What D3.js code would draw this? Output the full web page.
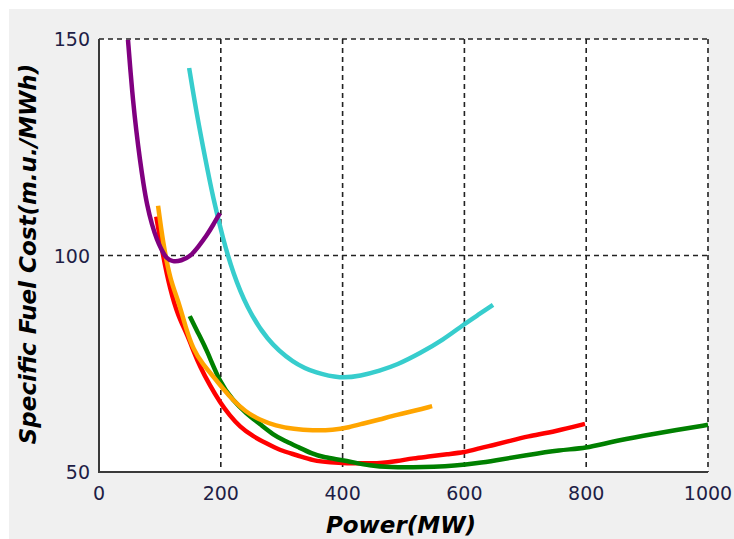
<!DOCTYPE html>
<html>
<head>
<meta charset="utf-8">
<script src="https://cdn.jsdelivr.net/npm/d3@7"></script>
<style>
  html, body { margin: 0; padding: 0; background: #fff; }
  svg { display: block; }
  .tick-label { font-family: "DejaVu Sans", Verdana, sans-serif; font-size: 19px; fill: #1e1e46; }
  .axis-title { font-family: "DejaVu Sans", Verdana, sans-serif; font-size: 23px; font-weight: bold; font-style: italic; fill: #000; }
</style>
</head>
<body>
<div id="chart"></div>
<script>
'use strict';

// tick values
var xTicks = [0, 200, 400, 600, 800, 1000];
var yTicks = [50, 100, 150];

// curves, [power MW, specific fuel cost]
var purpleUnit = [[47.6, 149.8], [52, 142], [55.8, 135.9], [61, 129], [67.3, 122], [73, 116.5],
  [78.8, 111.7], [87, 107], [95.2, 103.6], [103, 101.2], [110, 99.4], [121.5, 98.5], [135, 98.8],
  [149.4, 99.7], [163, 102], [177.3, 104.7], [188, 107.2], [198.7, 109.8]];

var cyanUnit = [[148, 143.3], [160, 133], [175, 122], [187, 113.5], [204, 103.6], [220, 96],
  [242, 88.2], [275, 80.5], [319, 75.1], [357, 72.8], [396, 71.6], [430, 72.2], [461, 73.4],
  [489, 74.7], [527, 77.4], [565, 80.5], [598, 84], [625, 86.5], [647, 88.6]];

var orangeUnit = [[97, 111.5], [105, 103], [117, 94.3], [130, 89.7], [142, 83.5], [155, 78.2],
  [170, 75], [188, 72], [205, 69], [220, 66.6], [240, 64], [264, 62], [290, 60.7], [320, 59.9],
  [350, 59.6], [385, 59.7], [410, 60.3], [434, 61.2], [460, 62.1], [489, 63.2], [520, 64.2],
  [547, 65.2]];

var redUnit = [[94, 109], [105, 100], [117, 92], [130, 86], [144, 82], [155, 78], [166, 74.3],
  [182, 70], [199, 66], [215, 63], [231, 60.5], [252, 58.3], [275, 56.6], [297, 55], [325, 53.9],
  [352, 52.6], [380, 52.2], [407, 52], [435, 52], [461, 52], [490, 52.5], [516, 53.2],
  [545, 53.6], [571, 54.1], [600, 54.5], [625, 55.5], [647, 56.2], [675, 57.2], [702, 58.2],
  [750, 59.4], [798, 61.1]];

var greenUnit = [[149, 86], [163, 82], [177, 78.2], [199, 70.5], [220, 66.5], [242, 63.5],
  [265, 61], [286, 58.6], [305, 57.2], [325, 55.9], [350, 54.2], [368, 53.4], [407, 52.6],
  [445, 51.4], [480, 51.1], [516, 51.1], [550, 51.2], [582, 51.4], [625, 52.1], [647, 52.6],
  [702, 53.9], [757, 55.1], [800, 55.5], [839, 56.9], [894, 58.4], [949, 59.7], [1000, 60.9]];

var series = [
  { name: 'red', color: '#ff0000', values: redUnit },
  { name: 'green', color: '#008000', values: greenUnit },
  { name: 'orange', color: '#ffa500', values: orangeUnit },
  { name: 'cyan', color: '#37cdcd', values: cyanUnit },
  { name: 'purple', color: '#800080', values: purpleUnit }
];

var W = 734, H = 539,
    plot = { left: 99, top: 39, right: 708, bottom: 472 };

var svg = d3.select('#chart').append('svg')
  .attr('width', W)
  .attr('height', H);

// gray window background
svg.append('rect')
  .attr('x', 9).attr('y', 9)
  .attr('width', W - 9).attr('height', H - 9)
  .attr('fill', '#f0f0f0');

svg.append('rect')
  .attr('x', plot.left).attr('y', plot.top)
  .attr('width', plot.right - plot.left).attr('height', plot.bottom - plot.top)
  .attr('fill', '#fff');

var x = d3.scaleLinear().domain([0, 1000]).range([plot.left, plot.right]);
var y = d3.scaleLinear().domain([50, 150]).range([plot.bottom, plot.top]);

// dashed grid (also serves as top / right border)
var grid = svg.append('g')
  .attr('stroke', '#222')
  .attr('stroke-width', 1.6)
  .attr('stroke-dasharray', '5,4');

grid.selectAll('line.vx')
  .data(xTicks.slice(1))
  .enter().append('line')
    .attr('class', 'vx')
    .attr('x1', function (d) { return x(d); })
    .attr('x2', function (d) { return x(d); })
    .attr('y1', plot.top)
    .attr('y2', plot.bottom);

grid.selectAll('line.hy')
  .data(yTicks.slice(1))
  .enter().append('line')
    .attr('class', 'hy')
    .attr('x1', plot.left)
    .attr('x2', plot.right)
    .attr('y1', function (d) { return y(d); })
    .attr('y2', function (d) { return y(d); });

// curves (basis smooths out reading noise)
var line = d3.line()
  .x(function (d) { return x(d[0]); })
  .y(function (d) { return y(d[1]); })
  .curve(d3.curveBasis);

svg.append('g').selectAll('path')
  .data(series)
  .enter().append('path')
    .attr('d', function (d) { return line(d.values); })
    .attr('fill', 'none')
    .attr('stroke', function (d) { return d.color; })
    .attr('stroke-width', 4.5)
    .attr('stroke-linejoin', 'round');

// solid left / bottom axes
svg.append('path')
  .attr('d', 'M' + plot.left + ',' + plot.top + 'V' + plot.bottom + 'H' + plot.right)
  .attr('fill', 'none')
  .attr('stroke', '#3a3a3a')
  .attr('stroke-width', 2);

svg.selectAll('text.xt')
  .data(xTicks)
  .enter().append('text')
    .attr('class', 'tick-label')
    .attr('x', function (d) { return x(d); })
    .attr('y', plot.bottom + 28)
    .attr('text-anchor', 'middle')
    .text(function (d) { return d; });

svg.selectAll('text.yt')
  .data(yTicks)
  .enter().append('text')
    .attr('class', 'tick-label')
    .attr('x', plot.left - 9)
    .attr('y', function (d) { return y(d) + 7; })
    .attr('text-anchor', 'end')
    .text(function (d) { return d; });

svg.append('text')
  .attr('class', 'axis-title')
  .attr('x', 401)
  .attr('y', 533)
  .attr('text-anchor', 'middle')
  .text('Power(MW)');

svg.append('text')
  .attr('class', 'axis-title')
  .attr('transform', 'translate(36,254) rotate(-90)')
  .attr('text-anchor', 'middle')
  .text('Specific Fuel Cost(m.u./MWh)');
</script>
</body>
</html>
